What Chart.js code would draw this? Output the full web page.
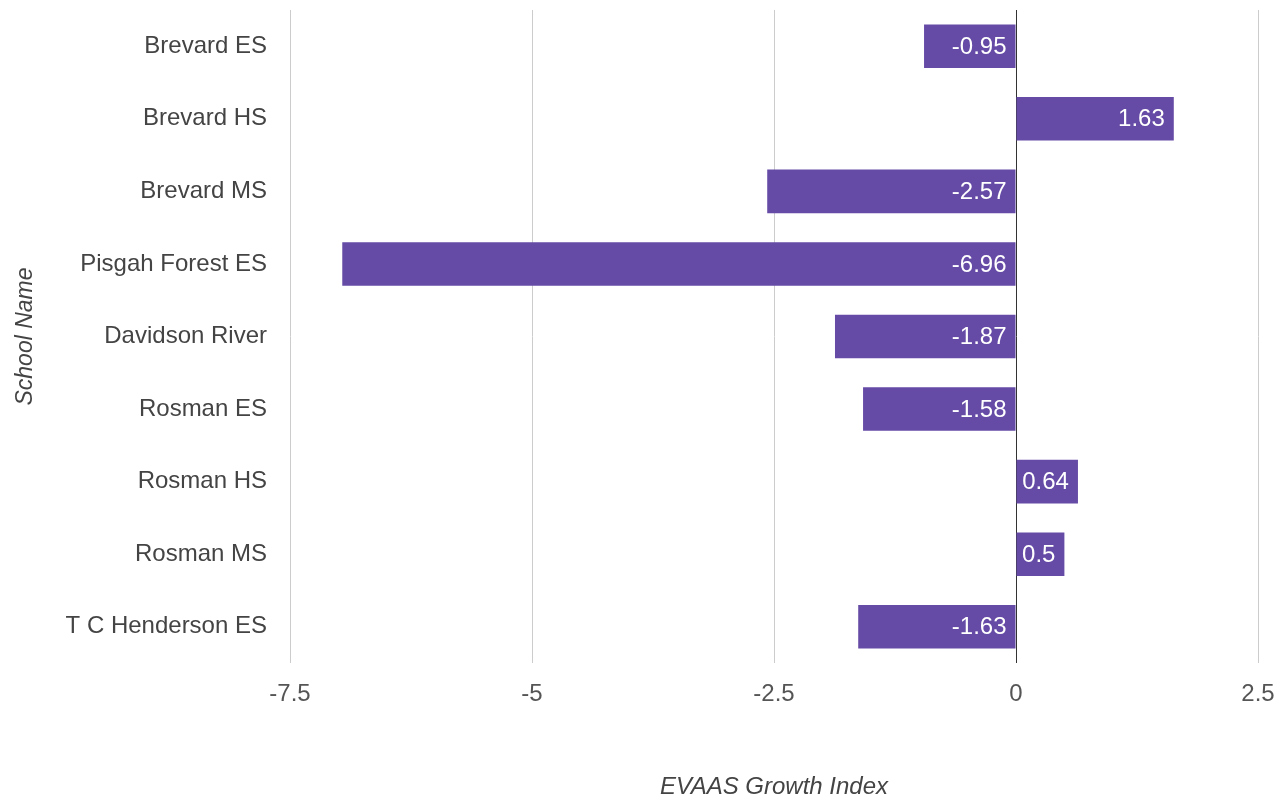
<!DOCTYPE html>
<html>
<head>
<meta charset="utf-8">
<script src="https://cdn.jsdelivr.net/npm/chart.js@4"></script>
<style>
  html, body { margin: 0; padding: 0; background: #fff; }
  #wrap { width: 1280px; height: 799px; position: relative; }
</style>
</head>
<body>
<div id="wrap"><canvas id="c"></canvas></div>
<script>
const schools = ["Brevard ES", "Brevard HS", "Brevard MS", "Pisgah Forest ES", "Davidson River", "Rosman ES", "Rosman HS", "Rosman MS", "T C Henderson ES"];
const growthIndex = [-0.95, 1.63, -2.57, -6.96, -1.87, -1.58, 0.64, 0.5, -1.63];
const valueLabels = ["-0.95", "1.63", "-2.57", "-6.96", "-1.87", "-1.58", "0.64", "0.5", "-1.63"];
const xTickLabels = ["-7.5", "-5", "-2.5", "0", "2.5"];
const xMin = -7.5, xMax = 2.5, xStep = 2.5;

const FONT = "'Liberation Sans', Arial, sans-serif";

const valueLabelPlugin = {
  id: 'valueLabels',
  afterDatasetsDraw(chart) {
    const ctx = chart.ctx;
    const meta = chart.getDatasetMeta(0);
    ctx.save();
    ctx.font = "24px " + FONT;
    ctx.fillStyle = "#ffffff";
    ctx.textAlign = "right";
    ctx.textBaseline = "middle";
    meta.data.forEach((bar, i) => {
      const right = Math.max(bar.x, bar.base);
      ctx.fillText(valueLabels[i], right - 9, bar.y + 1);
    });
    ctx.restore();
  }
};

new Chart(document.getElementById('c'), {
  type: 'bar',
  data: {
    labels: schools,
    datasets: [{
      data: growthIndex,
      backgroundColor: '#654aa6',
      borderWidth: 0,
      barPercentage: 0.6,
      categoryPercentage: 1.0
    }]
  },
  options: {
    indexAxis: 'y',
    responsive: true,
    maintainAspectRatio: false,
    animation: false,
    layout: { padding: { top: 10, right: 22, left: 0, bottom: 0 } },
    plugins: {
      legend: { display: false },
      tooltip: { enabled: false }
    },
    scales: {
      x: {
        min: xMin, max: xMax,
        border: { display: false },
        grid: {
          drawTicks: false,
          color: ctx => (ctx.tick && ctx.tick.value === 0) ? '#333333' : '#cccccc',
          lineWidth: 1
        },
        ticks: {
          stepSize: xStep,
          padding: 17,
          color: '#555555',
          font: { family: FONT, size: 24 },
          callback: (v, i) => xTickLabels[i]
        },
        title: {
          display: true,
          text: 'EVAAS Growth Index',
          color: '#444444',
          font: { family: FONT, size: 24, style: 'italic', lineHeight: 1 },
          padding: { top: 0, bottom: 0 }
        },
        afterFit: s => { s.height = 136; s.paddingLeft = 0; s.paddingRight = 0; s.paddingTop = 0; s.paddingBottom = 0; }
      },
      y: {
        border: { display: false },
        grid: { display: false, drawTicks: false },
        ticks: {
          padding: 23,
          color: '#444444',
          font: { family: FONT, size: 24 }
        },
        title: {
          display: true,
          text: 'School Name',
          color: '#444444',
          font: { family: FONT, size: 23, style: 'italic', lineHeight: 1 },
          padding: { top: 14, bottom: 14 }
        },
        afterFit: s => { s.width = 290; s.paddingLeft = 0; s.paddingRight = 0; s.paddingTop = 0; s.paddingBottom = 0; }
      }
    }
  },
  plugins: [valueLabelPlugin]
});
</script>
</body>
</html>
